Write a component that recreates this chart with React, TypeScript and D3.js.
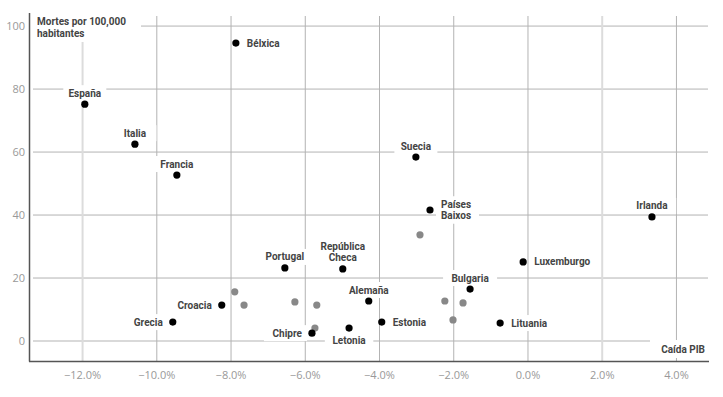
import React from "react";
import * as d3 from "d3";

const countries = ["España","Italia","Francia","Bélxica","Suecia","Países Baixos","Irlanda","Luxemburgo","Bulgaria","Portugal","República Checa","Alemaña","Estonia","Lituania","Letonia","Chipre","Croacia","Grecia"];
const gdpDrop = [-11.94,-10.59,-9.46,-7.87,-3.02,-2.64,3.34,-0.13,-1.56,-6.55,-4.99,-4.29,-3.94,-0.75,-4.82,-5.82,-8.25,-9.57];
const deaths = [75.2,62.5,52.7,94.6,58.4,41.6,39.4,25.1,16.5,23.2,22.9,12.7,6.0,5.7,4.1,2.5,11.4,6.0];

const otherX = [-7.90,-7.65,-6.28,-5.69,-5.74,-2.91,-2.24,-1.75,-2.02];
const otherY = [15.6,11.4,12.4,11.4,4.1,33.7,12.7,12.1,6.7];

const xTicks = [-12,-10,-8,-6,-4,-2,0,2,4];
const yTicks = [0,20,40,60,80,100];
const yTitle = ["Mortes por 100,000","habitantes"];
const xTitle = "Caída PIB";

const labelSide: Record<string,string> = {
  "España":"top","Italia":"top","Francia":"top","Bélxica":"right","Suecia":"top","Países Baixos":"right","Irlanda":"top","Luxemburgo":"right","Bulgaria":"top","Portugal":"top","República Checa":"top","Alemaña":"top","Estonia":"right","Lituania":"right","Letonia":"bottom","Chipre":"left","Croacia":"left","Grecia":"left"
};
const labelLines: Record<string,string[]> = {
  "Países Baixos":["Países","Baixos"],
  "República Checa":["República","Checa"],
};

const W = 723, H = 397;
const FONT = "Roboto, sans-serif";

export default function App() {
  const x = d3.scaleLinear().domain([-13.43, 4.85]).range([29.5, 708]);
  const y = d3.scaleLinear().domain([-6.35, 103.2]).range([361, 16]);
  const fs = 10;
  const lh = 11.5;
  const charW = 5.5;

  const labels = countries.map((c, i) => {
    const px = x(gdpDrop[i]), py = y(deaths[i]);
    const lines = labelLines[c] || [c];
    const side = labelSide[c];
    let anchor = "middle", tx = px, ty0 = py;
    const n = lines.length;
    if (side === "top") { ty0 = py - 11 - (n - 1) * lh; }
    else if (side === "bottom") { ty0 = py + 12; }
    else if (side === "right") { anchor = "start"; tx = px + 11; ty0 = py - (n - 1) * lh / 2; }
    else { anchor = "end"; tx = px - 10; ty0 = py; }
    const wMax = d3.max(lines, (l) => l.length * charW) as number;
    const bx = anchor === "middle" ? tx - wMax / 2 : anchor === "start" ? tx : tx - wMax;
    return { c, px, py, lines, anchor, tx, ty0, bx, wMax, n };
  });

  return (
    <svg width={W} height={H} style={{ position: "absolute", left: 0, top: 0, background: "#fff" }} fontFamily={FONT}>
      {yTicks.map((t) => (
        <line key={"gy" + t} x1={33} x2={708} y1={y(t)} y2={y(t)} stroke="#b3b3b3" strokeWidth={1} />
      ))}
      {xTicks.map((t) => (
        <line key={"gx" + t} x1={x(t)} x2={x(t)} y1={16} y2={361}
          stroke={t === -12 || t === 2 ? "#dcdcdc" : "#b3b3b3"} strokeWidth={t === -12 || t === 2 ? 2 : 1} />
      ))}
      {labels.map((l) => (
        <rect key={"h" + l.c} x={l.bx - 5} y={l.ty0 - 8} width={l.wMax + 10} height={(l.n - 1) * lh + 16} fill="#fff" />
      ))}
      <rect x={33} y={12} width={108} height={30} fill="#fff" />
      <rect x={650} y={340} width={58} height={18} fill="#fff" />
      <line x1={29.5} x2={29.5} y1={13} y2={361.5} stroke="#555" strokeWidth={1.5} />
      <line x1={29} x2={709} y1={361.5} y2={361.5} stroke="#555" strokeWidth={1.5} />
      {yTicks.map((t) => (
        <text key={"yt" + t} x={25} y={y(t) + 4} textAnchor="end" fontSize={11} fill="#999" fontFamily="'Open Sans', sans-serif">{t}</text>
      ))}
      {xTicks.map((t) => (
        <text key={"xt" + t} x={x(t)} y={379} textAnchor="middle" fontSize={11} fill="#999" fontFamily="'Open Sans', sans-serif">
          {(t < 0 ? "\u2212" : "") + d3.format(".1f")(Math.abs(t)) + "%"}
        </text>
      ))}
      {otherX.map((v, i) => (
        <circle key={"o" + i} cx={x(v)} cy={y(otherY[i])} r={3.6} fill="#888" />
      ))}
      {labels.map((l) => (
        <circle key={"p" + l.c} cx={l.px} cy={l.py} r={3.6} fill="#000" />
      ))}
      {labels.map((l) => (
        <g key={"t" + l.c}>
          {l.lines.map((ln, j) => (
            <text key={j} x={l.tx} y={l.ty0 + 3.5 + j * lh} textAnchor={l.anchor as any} fontSize={fs} fontWeight={700} fill="#444">{ln}</text>
          ))}
        </g>
      ))}
      {yTitle.map((ln, j) => (
        <text key={"yt" + j} x={37} y={25 + j * lh} fontSize={fs} fontWeight={700} fill="#444">{ln}</text>
      ))}
      <text x={705} y={353} textAnchor="end" fontSize={fs} fontWeight={700} fill="#444">{xTitle}</text>
    </svg>
  );
}
